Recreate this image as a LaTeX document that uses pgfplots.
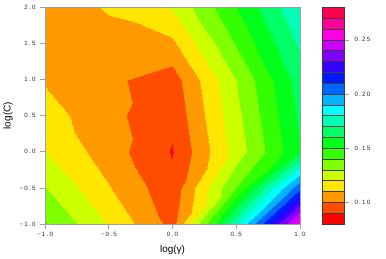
\documentclass[border=0pt]{standalone}
\usepackage{fontspec}
\setmainfont{Liberation Sans}
\newfontfamily\tickfont[LetterSpace=20]{Liberation Sans}
\usepackage{pgfplots}
\usepackage{pgfplotstable}
\pgfplotsset{compat=1.18}
\definecolor{rb0}{RGB}{255,0,0}
\definecolor{rb1}{RGB}{255,77,0}
\definecolor{rb2}{RGB}{255,153,0}
\definecolor{rb3}{RGB}{255,230,0}
\definecolor{rb4}{RGB}{204,255,0}
\definecolor{rb5}{RGB}{128,255,0}
\definecolor{rb6}{RGB}{51,255,0}
\definecolor{rb7}{RGB}{0,255,26}
\definecolor{rb8}{RGB}{0,255,102}
\definecolor{rb9}{RGB}{0,255,179}
\definecolor{rb10}{RGB}{0,255,255}
\definecolor{rb11}{RGB}{0,179,255}
\definecolor{rb12}{RGB}{0,102,255}
\definecolor{rb13}{RGB}{0,26,255}
\definecolor{rb14}{RGB}{51,0,255}
\definecolor{rb15}{RGB}{128,0,255}
\definecolor{rb16}{RGB}{204,0,255}
\definecolor{rb17}{RGB}{255,0,230}
\definecolor{rb18}{RGB}{255,0,153}
\definecolor{rb19}{RGB}{255,0,77}
\definecolor{framec}{RGB}{160,160,160}
\definecolor{labc}{RGB}{40,40,40}
\definecolor{cbline}{RGB}{60,60,60}
% triangles of the grid (3 vertices each), z = value
\pgfplotstableread{
x y z
-1 -1 0.141
-0.5 -1 0.119
-1 -0.5 0.1305
-0.5 -1 0.119
-0.5 -0.5 0.1106
-1 -0.5 0.1305
-0.5 -1 0.119
0 -1 0.097
-0.5 -0.5 0.1106
0 -1 0.097
0 -0.5 0.0932
-0.5 -0.5 0.1106
0 -1 0.097
0.5 -1 0.177
0.5 -0.5 0.1402
0 -1 0.097
0.5 -0.5 0.1402
0 -0.5 0.0932
0.5 -1 0.177
1 -1 0.257
1 -0.5 0.208
0.5 -1 0.177
1 -0.5 0.208
0.5 -0.5 0.1402
-1 -0.5 0.1305
-0.5 -0.5 0.1106
-1 0 0.120
-0.5 -0.5 0.1106
-0.5 0 0.1047
-1 0 0.120
-0.5 -0.5 0.1106
0 -0.5 0.0932
-0.5 0 0.1047
0 -0.5 0.0932
0 0 0.0893
-0.5 0 0.1047
0 -0.5 0.0932
0.5 -0.5 0.1402
0.5 0 0.1242
0 -0.5 0.0932
0.5 0 0.1242
0 0 0.0893
0.5 -0.5 0.1402
1 -0.5 0.208
1 0 0.159
0.5 -0.5 0.1402
1 0 0.159
0.5 0 0.1242
-1 0 0.120
-0.5 0 0.1047
-1 0.5 0.1145
-0.5 0 0.1047
-0.5 0.5 0.1029
-1 0.5 0.1145
-0.5 0 0.1047
0 0 0.0893
0 0.5 0.0922
-0.5 0 0.1047
0 0.5 0.0922
-0.5 0.5 0.1029
0 0 0.0893
0.5 0 0.1242
0 0.5 0.0922
0.5 0 0.1242
0.5 0.5 0.127
0 0.5 0.0922
0.5 0 0.1242
1 0 0.159
0.5 0.5 0.127
1 0 0.159
1 0.5 0.162
0.5 0.5 0.127
-1 0.5 0.1145
-0.5 0.5 0.1029
-1 1 0.109
-0.5 0.5 0.1029
-0.5 1 0.102
-1 1 0.109
-0.5 0.5 0.1029
0 0.5 0.0922
0 1 0.095
-0.5 0.5 0.1029
0 1 0.095
-0.5 1 0.102
0 0.5 0.0922
0.5 0.5 0.127
0 1 0.095
0.5 0.5 0.127
0.5 1 0.130
0 1 0.095
0.5 0.5 0.127
1 0.5 0.162
0.5 1 0.130
1 0.5 0.162
1 1 0.165
0.5 1 0.130
-1 1 0.109
-0.5 1 0.102
-1 1.5 0.1055
-0.5 1 0.102
-0.5 1.5 0.105
-1 1.5 0.1055
-0.5 1 0.102
0 1 0.095
0 1.5 0.108
-0.5 1 0.102
0 1.5 0.108
-0.5 1.5 0.105
0 1 0.095
0.5 1 0.130
0 1.5 0.108
0.5 1 0.130
0.5 1.5 0.141
0 1.5 0.108
0.5 1 0.130
1 1 0.165
0.5 1.5 0.141
1 1 0.165
1 1.5 0.172
0.5 1.5 0.141
-1 1.5 0.1055
-0.5 1.5 0.105
-1 2 0.102
-0.5 1.5 0.105
-0.5 2 0.1115
-1 2 0.102
-0.5 1.5 0.105
0 1.5 0.108
-0.5 2 0.1115
0 1.5 0.108
0 2 0.121
-0.5 2 0.1115
0 1.5 0.108
0.5 1.5 0.141
0 2 0.121
0.5 1.5 0.141
0.5 2 0.150
0 2 0.121
0.5 1.5 0.141
1 1.5 0.172
0.5 2 0.150
1 1.5 0.172
1 2 0.179
0.5 2 0.150
}\tritable
\begin{document}
\begin{tikzpicture}
\useasboundingbox (0,0) rectangle (386bp,259bp);
\begin{axis}[
  at={(45bp,35bp)}, anchor=south west,
  scale only axis, width=255bp, height=216.7bp,
  xmin=-1, xmax=1, ymin=-1, ymax=2,
  colormap={rainbow20}{rgb255(0)=(255,0,0) rgb255(1)=(255,77,0) rgb255(2)=(255,153,0)
    rgb255(3)=(255,230,0) rgb255(4)=(204,255,0) rgb255(5)=(128,255,0) rgb255(6)=(51,255,0)
    rgb255(7)=(0,255,26) rgb255(8)=(0,255,102) rgb255(9)=(0,255,179) rgb255(10)=(0,255,255)
    rgb255(11)=(0,179,255) rgb255(12)=(0,102,255) rgb255(13)=(0,26,255) rgb255(14)=(51,0,255)
    rgb255(15)=(128,0,255) rgb255(16)=(204,0,255) rgb255(17)=(255,0,230) rgb255(18)=(255,0,153)
    rgb255(19)=(255,0,77) rgb255(20)=(255,0,77)},
  colormap access=piecewise constant,
  point meta min=0.08, point meta max=0.28,
  xtick={-1,-0.5,0,0.5,1}, xticklabels={−1.0,−0.5,0.0,0.5,1.0},
  ytick={-1,-0.5,0,0.5,1,1.5,2}, yticklabels={−1.0,−0.5,0.0,0.5,1.0,1.5,2.0},
  tick pos=left, tick align=outside, major tick length=5bp,
  tick style={draw=framec, line width=0.6pt},
  axis line style={draw=framec, line width=0.6pt},
  ticklabel style={font=\tickfont\fontsize{6.2}{7}\selectfont, text=labc},
  yticklabel style={xshift=-1bp},
  xlabel={log(γ)}, ylabel={log(C)},
  label style={font=\fontsize{12.5}{14}\selectfont, text=labc},
  every axis x label/.style={at={(axis description cs:0.5,-0.12)}, anchor=center},
  every axis y label/.style={at={(axis description cs:-0.145,0.5)}, rotate=90, anchor=center},
  axis on top,
]
\addplot[patch, patch type=triangle, shader=interp, point meta=explicit]
  table[x=x, y=y, meta=z] {\tritable};
\end{axis}
\begin{axis}[
  at={(322bp,35bp)}, anchor=south west,
  scale only axis, width=22bp, height=216.7bp,
  xmin=0, xmax=1, ymin=0.08, ymax=0.28,
  xtick=\empty,
  ytick={0.10,0.15,0.20,0.25}, yticklabels={0.10,0.15,0.20,0.25},
  ytick pos=right, yticklabel pos=right, tick align=outside, major tick length=5bp,
  tick style={draw=framec, line width=0.6pt},
  axis line style={draw=cbline, line width=0.5pt},
  ticklabel style={font=\tickfont\fontsize{6.2}{7}\selectfont, text=labc},
  yticklabel style={xshift=2bp},
  axis on top,
]
\addplot[fill=rb0, draw=cbline, line width=0.5pt] coordinates {(0,0.08) (1,0.08) (1,0.09) (0,0.09)} -- cycle;
\addplot[fill=rb1, draw=cbline, line width=0.5pt] coordinates {(0,0.09) (1,0.09) (1,0.10) (0,0.10)} -- cycle;
\addplot[fill=rb2, draw=cbline, line width=0.5pt] coordinates {(0,0.10) (1,0.10) (1,0.11) (0,0.11)} -- cycle;
\addplot[fill=rb3, draw=cbline, line width=0.5pt] coordinates {(0,0.11) (1,0.11) (1,0.12) (0,0.12)} -- cycle;
\addplot[fill=rb4, draw=cbline, line width=0.5pt] coordinates {(0,0.12) (1,0.12) (1,0.13) (0,0.13)} -- cycle;
\addplot[fill=rb5, draw=cbline, line width=0.5pt] coordinates {(0,0.13) (1,0.13) (1,0.14) (0,0.14)} -- cycle;
\addplot[fill=rb6, draw=cbline, line width=0.5pt] coordinates {(0,0.14) (1,0.14) (1,0.15) (0,0.15)} -- cycle;
\addplot[fill=rb7, draw=cbline, line width=0.5pt] coordinates {(0,0.15) (1,0.15) (1,0.16) (0,0.16)} -- cycle;
\addplot[fill=rb8, draw=cbline, line width=0.5pt] coordinates {(0,0.16) (1,0.16) (1,0.17) (0,0.17)} -- cycle;
\addplot[fill=rb9, draw=cbline, line width=0.5pt] coordinates {(0,0.17) (1,0.17) (1,0.18) (0,0.18)} -- cycle;
\addplot[fill=rb10, draw=cbline, line width=0.5pt] coordinates {(0,0.18) (1,0.18) (1,0.19) (0,0.19)} -- cycle;
\addplot[fill=rb11, draw=cbline, line width=0.5pt] coordinates {(0,0.19) (1,0.19) (1,0.20) (0,0.20)} -- cycle;
\addplot[fill=rb12, draw=cbline, line width=0.5pt] coordinates {(0,0.20) (1,0.20) (1,0.21) (0,0.21)} -- cycle;
\addplot[fill=rb13, draw=cbline, line width=0.5pt] coordinates {(0,0.21) (1,0.21) (1,0.22) (0,0.22)} -- cycle;
\addplot[fill=rb14, draw=cbline, line width=0.5pt] coordinates {(0,0.22) (1,0.22) (1,0.23) (0,0.23)} -- cycle;
\addplot[fill=rb15, draw=cbline, line width=0.5pt] coordinates {(0,0.23) (1,0.23) (1,0.24) (0,0.24)} -- cycle;
\addplot[fill=rb16, draw=cbline, line width=0.5pt] coordinates {(0,0.24) (1,0.24) (1,0.25) (0,0.25)} -- cycle;
\addplot[fill=rb17, draw=cbline, line width=0.5pt] coordinates {(0,0.25) (1,0.25) (1,0.26) (0,0.26)} -- cycle;
\addplot[fill=rb18, draw=cbline, line width=0.5pt] coordinates {(0,0.26) (1,0.26) (1,0.27) (0,0.27)} -- cycle;
\addplot[fill=rb19, draw=cbline, line width=0.5pt] coordinates {(0,0.27) (1,0.27) (1,0.28) (0,0.28)} -- cycle;
\end{axis}
\end{tikzpicture}
\end{document}
